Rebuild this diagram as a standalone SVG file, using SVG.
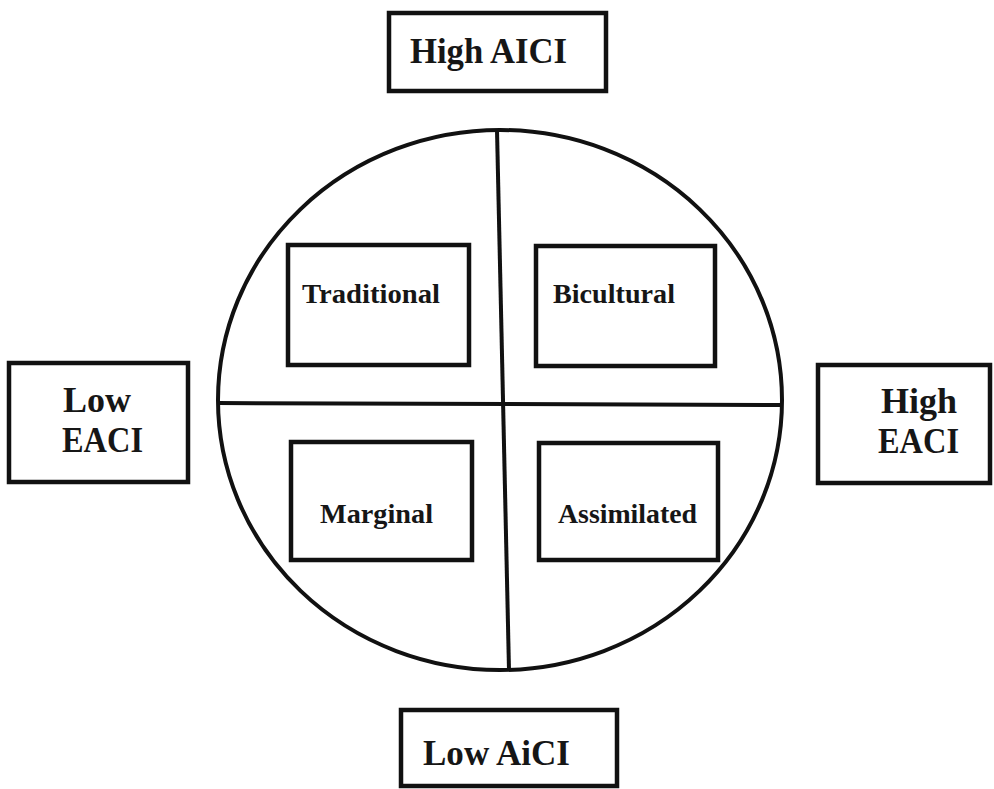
<svg xmlns="http://www.w3.org/2000/svg" width="994" height="789" viewBox="0 0 994 789">
<style>
.box{fill:#fff;stroke:#111;stroke-width:4.5}
.ln{fill:none;stroke:#111;stroke-width:4}
text{font-family:"Liberation Serif","DejaVu Serif",serif;font-weight:bold;fill:#161616}
.big{font-size:36px}
.sm{font-size:28px}
</style>
<rect width="994" height="789" fill="#fff"/>
<g id="connectors">
<ellipse class="ln" cx="500" cy="400" rx="282" ry="270"/>
<line class="ln" x1="497" y1="130" x2="509" y2="670"/>
<line class="ln" x1="218" y1="403" x2="782" y2="405"/>
</g>
<g id="high-aici">
<rect class="box" x="389" y="13" width="217" height="78"/>
<text class="big" x="410" y="63" textLength="157" lengthAdjust="spacingAndGlyphs">High AICI</text>
</g>
<g id="low-aici">
<rect class="box" x="401" y="710" width="216" height="76"/>
<text class="big" x="423" y="765" textLength="147" lengthAdjust="spacingAndGlyphs">Low AiCI</text>
</g>
<g id="low-eaci">
<rect class="box" x="9" y="363" width="179" height="119"/>
<text class="big" x="97" y="412" text-anchor="middle">Low</text>
<text class="big" x="62" y="452" textLength="81" lengthAdjust="spacingAndGlyphs">EACI</text>
</g>
<g id="high-eaci">
<rect class="box" x="818" y="365" width="172" height="118"/>
<text class="big" x="919" y="413" text-anchor="middle">High</text>
<text class="big" x="878" y="453" textLength="81" lengthAdjust="spacingAndGlyphs">EACI</text>
</g>
<g id="traditional">
<rect class="box" x="288" y="245" width="181" height="120"/>
<text class="sm" x="302" y="303" textLength="138" lengthAdjust="spacingAndGlyphs">Traditional</text>
</g>
<g id="bicultural">
<rect class="box" x="536" y="246" width="179" height="120"/>
<text class="sm" x="553" y="303" textLength="122" lengthAdjust="spacingAndGlyphs">Bicultural</text>
</g>
<g id="marginal">
<rect class="box" x="291" y="442" width="181" height="118"/>
<text class="sm" x="320" y="523" textLength="113" lengthAdjust="spacingAndGlyphs">Marginal</text>
</g>
<g id="assimilated">
<rect class="box" x="539" y="443" width="179" height="117"/>
<text class="sm" x="558" y="523" textLength="139" lengthAdjust="spacingAndGlyphs">Assimilated</text>
</g>
</svg>
